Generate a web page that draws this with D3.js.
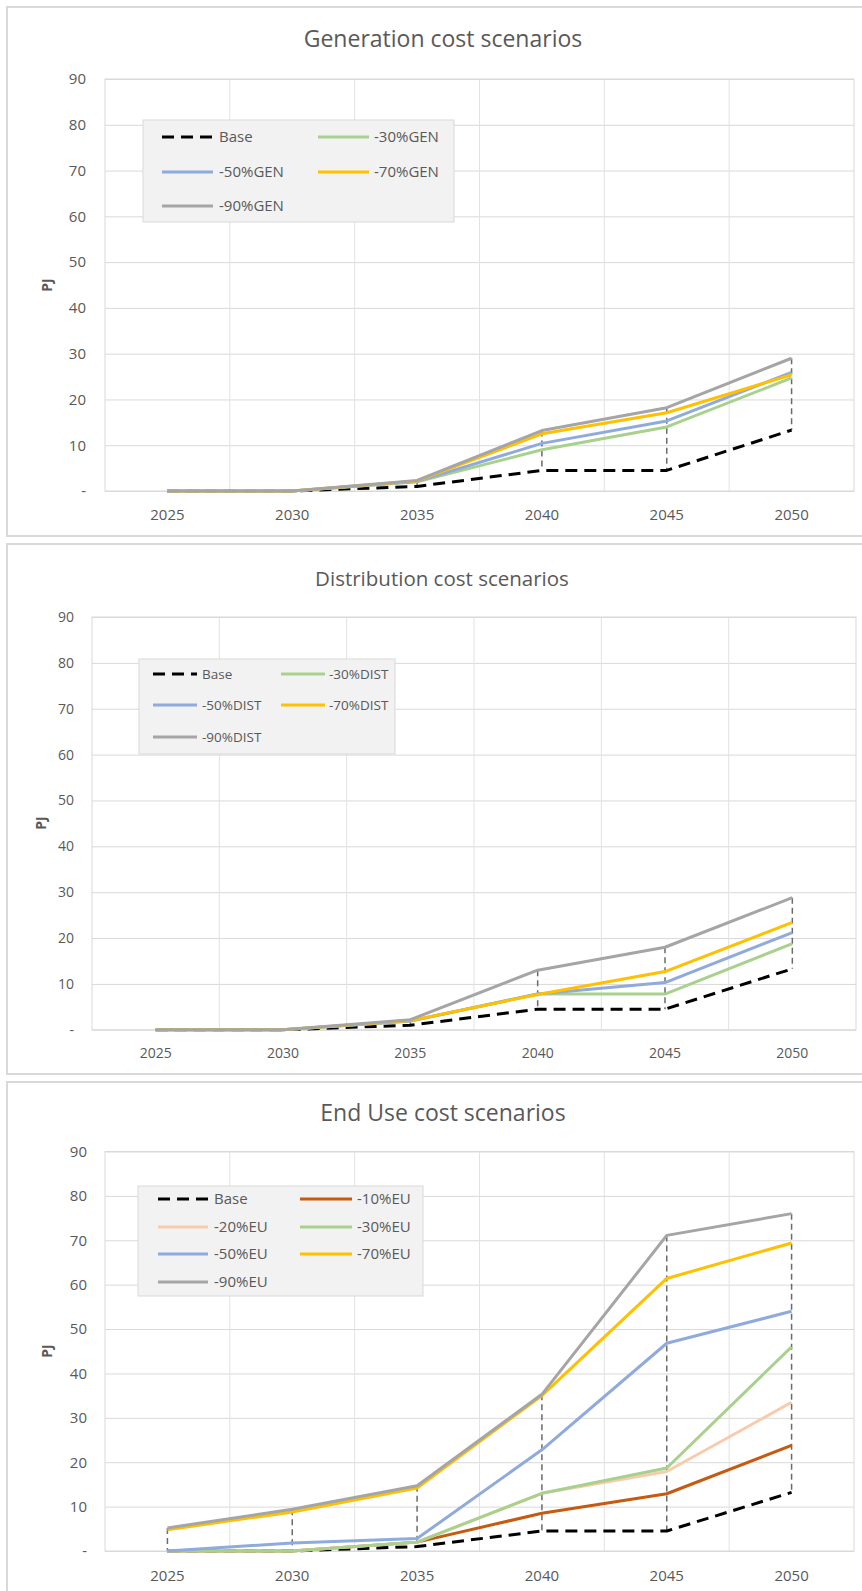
<!DOCTYPE html>
<html>
<head>
<meta charset="utf-8">
<script src="https://cdn.jsdelivr.net/npm/d3@7"></script>
<style>
  body { margin: 0; background: #fff; }
  text { font-family: "Open Sans", sans-serif; fill: #595959; }
</style>
</head>
<body>
<svg id="chart" width="862" height="1591"></svg>
<script>
// categories and axis ticks
var years = ["2025", "2030", "2035", "2040", "2045", "2050"];
var yTicks = [0, 10, 20, 30, 40, 50, 60, 70, 80, 90];

// Generation cost scenarios (PJ)
var genBase = [0, 0, 1.0, 4.5, 4.5, 13.3];
var gen30   = [0, 0, 2.0, 9.0, 14.0, 24.7];
var gen50   = [0, 0, 2.1, 10.4, 15.3, 25.9];
var gen70   = [0, 0, 2.2, 12.5, 17.1, 25.4];
var gen90   = [0, 0, 2.3, 13.2, 18.2, 29.0];

// Distribution cost scenarios (PJ)
var distBase = [0, 0, 1.0, 4.5, 4.5, 13.3];
var dist30   = [0, 0, 1.9, 7.8, 7.8, 18.8];
var dist50   = [0, 0, 1.9, 7.8, 10.3, 21.2];
var dist70   = [0, 0, 2.0, 7.7, 12.7, 23.4];
var dist90   = [0, 0, 2.2, 13.0, 18.0, 28.8];

// End Use cost scenarios (PJ)
var euBase = [0, 0, 1.0, 4.5, 4.5, 13.2];
var eu10   = [0, 0, 2.0, 8.5, 12.9, 23.8];
var eu20   = [0, 0, 2.0, 13.0, 17.9, 33.5];
var eu30   = [0, 0, 2.0, 13.0, 18.7, 46.0];
var eu50   = [0, 1.8, 2.8, 22.8, 46.8, 54.0];
var eu70   = [4.8, 8.8, 14.2, 35.0, 61.4, 69.4];
var eu90   = [5.2, 9.4, 14.7, 35.3, 71.1, 76.0];

// office palette
var cBase = "#000000", c10 = "#C55A11", c20 = "#F8CBAD", c30 = "#A9D18E",
    c50 = "#8FAADC", c70 = "#FFC000", c90 = "#A5A5A5";

var svg = d3.select("#chart");

function drawPanel(p) {
  var g = svg.append("g");

  // chart frame
  g.append("rect")
    .attr("x", p.box[0]).attr("y", p.box[1])
    .attr("width", p.box[2]).attr("height", p.box[3])
    .attr("fill", "#fff").attr("stroke", "#d9d9d9").attr("stroke-width", 2);

  var x = d3.scaleBand().domain(years).range([p.plot.l, p.plot.r]);
  var y = d3.scaleLinear().domain([0, 90]).range([p.plot.b, p.plot.t]);
  var cx = function(d) { return x(d) + x.bandwidth() / 2; };

  // horizontal gridlines
  g.append("g")
    .attr("transform", "translate(" + p.plot.l + ",0)")
    .call(d3.axisLeft(y).tickValues(yTicks).tickSize(-(p.plot.r - p.plot.l)).tickFormat(""))
    .call(function(a) { a.select(".domain").remove(); })
    .selectAll("line").attr("stroke", "#d9d9d9");

  // vertical gridlines on the category boundaries
  g.append("g").selectAll("line")
    .data(years.slice(1)).join("line")
      .attr("x1", function(d) { return x(d); })
      .attr("x2", function(d) { return x(d); })
      .attr("y1", p.plot.t).attr("y2", p.plot.b)
      .attr("stroke", "#e2e2e2");

  g.append("rect")
    .attr("x", p.plot.l).attr("y", p.plot.t)
    .attr("width", p.plot.r - p.plot.l).attr("height", p.plot.b - p.plot.t)
    .attr("fill", "none").attr("stroke", "#d9d9d9");

  // y tick labels
  g.append("g")
    .attr("transform", "translate(" + p.plot.l + ",0)")
    .call(d3.axisLeft(y).tickValues(yTicks).tickSize(0)
      .tickPadding(p.plot.l - p.labelRight)
      .tickFormat(function(d) { return d === 0 ? "-" : d; }))
    .attr("font-size", p.tickSize)
    .call(function(a) { a.select(".domain").remove(); });

  // x tick labels
  g.append("g")
    .attr("transform", "translate(0," + p.plot.b + ")")
    .call(d3.axisBottom(x).tickSize(0))
    .attr("font-size", p.tickSize)
    .call(function(a) { a.select(".domain").remove(); })
    .selectAll("text").attr("dy", null).attr("y", p.xLabelY - p.plot.b);

  // high-low lines
  var hl = years.map(function(yr, i) {
    return {
      yr: yr,
      hi: d3.max(p.series, function(s) { return s.values[i]; }),
      lo: d3.min(p.series, function(s) { return s.values[i]; })
    };
  }).filter(function(d) { return d.hi > d.lo; });

  g.append("g").selectAll("line")
    .data(hl).join("line")
      .attr("x1", function(d) { return cx(d.yr); })
      .attr("x2", function(d) { return cx(d.yr); })
      .attr("y1", function(d) { return y(d.hi); })
      .attr("y2", function(d) { return y(d.lo); })
      .attr("stroke", "#6b6b6b").attr("stroke-width", 1.5)
      .attr("stroke-dasharray", "6,4");

  // series lines
  var line = d3.line()
    .x(function(d, i) { return cx(years[i]); })
    .y(function(d) { return y(d); });

  p.series.forEach(function(s) {
    g.append("path")
      .attr("d", line(s.values))
      .attr("fill", "none")
      .attr("stroke", s.color)
      .attr("stroke-width", 3)
      .attr("stroke-linejoin", "round")
      .attr("stroke-dasharray", s.dash ? "12,7" : null);
  });

  // title
  g.append("text")
    .attr("x", p.titleX).attr("y", p.titleY)
    .attr("text-anchor", "middle")
    .attr("font-size", p.titleSize)
    .text(p.title);

  // axis title
  g.append("text")
    .attr("transform", "translate(" + p.pj[0] + "," + p.pj[1] + ") rotate(-90)")
    .attr("text-anchor", "middle")
    .attr("dy", "0.35em")
    .attr("font-size", 14)
    .attr("font-weight", "bold")
    .text("PJ");

  // legend
  var L = p.legend;
  g.append("rect")
    .attr("x", L.box[0]).attr("y", L.box[1])
    .attr("width", L.box[2]).attr("height", L.box[3])
    .attr("fill", "#f2f2f2").attr("stroke", "#d9d9d9");

  p.series.forEach(function(s, i) {
    var col = L.cols[i % 2], ry = L.rows[Math.floor(i / 2)];
    g.append("line")
      .attr("x1", col[0]).attr("x2", col[1])
      .attr("y1", ry).attr("y2", ry)
      .attr("stroke", s.color).attr("stroke-width", 3)
      .attr("stroke-dasharray", s.dash ? "12,7" : null);
    g.append("text")
      .attr("x", col[2]).attr("y", ry)
      .attr("dy", "0.35em")
      .attr("font-size", L.size)
      .text(s.name);
  });
}

drawPanel({
  box: [7, 7, 880, 529],
  plot: {l: 105, r: 854, t: 79, b: 491},
  title: "Generation cost scenarios", titleX: 443, titleY: 47, titleSize: 23,
  tickSize: 15, labelRight: 86, xLabelY: 520, pj: [47, 285],
  legend: {box: [143, 120, 311, 102], rows: [137, 172, 206],
           cols: [[162, 213, 219], [318, 369, 374]], size: 15},
  series: [
    {name: "Base", values: genBase, color: cBase, dash: true},
    {name: "-30%GEN", values: gen30, color: c30},
    {name: "-50%GEN", values: gen50, color: c50},
    {name: "-70%GEN", values: gen70, color: c70},
    {name: "-90%GEN", values: gen90, color: c90}
  ]
});

drawPanel({
  box: [7, 544, 880, 530],
  plot: {l: 92, r: 856, t: 617, b: 1029.8},
  title: "Distribution cost scenarios", titleX: 442, titleY: 586, titleSize: 20.5,
  tickSize: 14, labelRight: 74, xLabelY: 1058, pj: [41, 823],
  legend: {box: [139, 659, 256, 95], rows: [674, 705, 737],
           cols: [[153, 197, 202], [281, 325, 329]], size: 13.5},
  series: [
    {name: "Base", values: distBase, color: cBase, dash: true},
    {name: "-30%DIST", values: dist30, color: c30},
    {name: "-50%DIST", values: dist50, color: c50},
    {name: "-70%DIST", values: dist70, color: c70},
    {name: "-90%DIST", values: dist90, color: c90}
  ]
});

drawPanel({
  box: [7, 1082, 880, 540],
  plot: {l: 105, r: 854, t: 1151.5, b: 1551},
  title: "End Use cost scenarios", titleX: 443, titleY: 1121, titleSize: 23,
  tickSize: 15, labelRight: 87, xLabelY: 1581, pj: [47, 1351],
  legend: {box: [138, 1186, 285, 110], rows: [1199, 1227, 1254, 1282],
           cols: [[158, 208, 214], [300, 352, 357]], size: 15},
  series: [
    {name: "Base", values: euBase, color: cBase, dash: true},
    {name: "-10%EU", values: eu10, color: c10},
    {name: "-20%EU", values: eu20, color: c20},
    {name: "-30%EU", values: eu30, color: c30},
    {name: "-50%EU", values: eu50, color: c50},
    {name: "-70%EU", values: eu70, color: c70},
    {name: "-90%EU", values: eu90, color: c90}
  ]
});
</script>
</body>
</html>
